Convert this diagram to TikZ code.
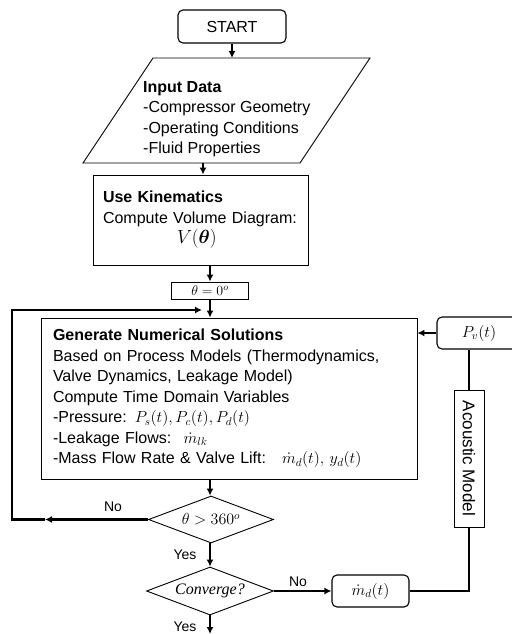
\RequirePackage{fix-cm}
\documentclass[tikz,border=0pt]{standalone}
\usepackage{amsmath}
\usepackage{bm}
\usepackage{fontspec}
\setmainfont{Liberation Sans}
\newfontfamily\serifit{Liberation Serif}
\usepackage{tikz}
\usetikzlibrary{positioning}
\usetikzlibrary{shapes.geometric,arrows.meta}

\begin{document}
\begin{tikzpicture}[x=1pt, y=-1pt,
	font=\fontsize{16}{20.5}\selectfont,
	flow/.style={line width=2.2pt, -{Latex[length=7pt,width=7pt]}},
	link/.style={line width=2.2pt},
	procbox/.style={draw, line width=0.9pt, rectangle, inner sep=0pt},
	termbox/.style={draw, line width=1.1pt, rounded corners=5pt, inner sep=0pt},
	decision/.style={draw, line width=0.9pt, diamond, aspect=2.66, inner sep=0pt},
	branch/.style={font=\fontsize{14}{16}\selectfont, inner sep=0pt}]
		
		% ---------------------
		% Proper size --- Bounding box
		\useasboundingbox (0,0) rectangle (511,634);
		
		% ---------------------
		% Start & input data
		
		\node[termbox, minimum width=108pt, minimum height=33pt] (Start) at (232,26.5) {START};
		
		\coordinate (InTL) at (153,58);
		\coordinate (InTR) at (370,58);
		\coordinate (InBR) at (300,163);
		\coordinate (InBL) at (83,163);
		\coordinate (InOut) at (203,163);
		\draw[line width=0.9pt] (InTL) -- (InTR) -- (InBR) -- (InBL) -- cycle;
		
		\node[anchor=north west, align=left, inner sep=0pt] (Input) at (143,81)
			{\textbf{Input Data}\\-Compressor Geometry\\-Operating Conditions\\-Fluid Properties};
		
		% ---------------------
		% Main column
		
		\node[procbox, minimum width=215pt, minimum height=90pt, text width=195pt, align=left] (Kin) at (200.5,220)
			{\textbf{Use Kinematics}\\Compute Volume Diagram:\\\hspace*{74pt}{\fontsize{19}{20.5}\selectfont$V(\boldsymbol{\theta})$}};
		
		\node[procbox, minimum width=77pt, minimum height=17pt, font=\fontsize{14}{16}\selectfont] (Zero) at (210,290.5) {$\theta = 0^{o}$};
		
		\node[procbox, minimum width=376pt, minimum height=161pt, text width=352pt, align=left] (Solve) at (229,398.5)
			{\textbf{Generate Numerical Solutions}\\
			Based on Process Models (Thermodynamics,\\
			Valve Dynamics, Leakage Model)\\
			Compute Time Domain Variables\\
			-Pressure: $P_s(t), P_c(t), P_d(t)$\\
			-Leakage Flows:\; $\dot{m}_{lk}$\\
			-Mass Flow Rate \& Valve Lift:\quad $\dot{m}_d(t),\, y_d(t)$};
		
		\node[decision, minimum width=125pt, minimum height=47pt] (Test) at (211,519.5) {$\theta > 360^{o}$};
		\node[decision, minimum width=127pt, minimum height=48pt] (Conv) at (210,591) {\serifit\itshape Converge?};
		
		% ---------------------
		% Acoustic side
		
		\node[termbox, minimum width=84pt, minimum height=32pt] (Pv) at (479,333) {$P_v(t)$};
		\node[procbox, rotate=-90, minimum width=137pt, minimum height=30pt, font=\fontsize{17}{20}\selectfont] (Acoustic) at (469,458.5) {Acoustic Model};
		\node[termbox, minimum width=77pt, minimum height=32pt] (Md) at (370.5,591) {$\dot{m}_d(t)$};
		
		% ---------------------
		% Branch labels
		
		\node[branch] (NoLoop) at (113,507) {No};
		\node[branch] (YesTest) at (185,555) {Yes};
		\node[branch] (NoConv) at (298,582) {No};
		\node[branch] (YesConv) at (185,627) {Yes};
		
		\coordinate (NoTip) at (45,519.5);
		\coordinate (LoopCorner) at (12,519.5);
		\coordinate (LoopIn) at (202,310);
		\coordinate (Exit) at (210,634);
		
		% ---------------------
		\draw[flow] (Start.south) -- (Start.south |- InTL);
		\draw[flow] (InOut) -- (InOut |- Kin.north);
		\draw[flow] (Kin.south -| Zero) -- (Zero.north);
		\draw[flow] (Zero.south) -- (Zero.south |- Solve.north);
		\draw[flow] (Solve.south -| Conv) -- (Conv |- Test.north);
		\draw[flow] (Test.south -| Conv) -- (Conv.north);
		\draw[flow] (Conv.south) -- (Exit);
		
		\draw[flow] (Test.west) -- (NoTip);
		\draw[flow] (NoTip) -- (LoopCorner) |- (LoopIn);
		
		\draw[flow] (Conv.east) -- (Md.west);
		\draw[link] (Md.east) -| (Acoustic.east);
		\draw[link] (Acoustic.west) -- (Acoustic.west |- Pv.south);
		\draw[flow] (Pv.west) -- (Pv.west -| Solve.east);
		
\end{tikzpicture}
\end{document}
